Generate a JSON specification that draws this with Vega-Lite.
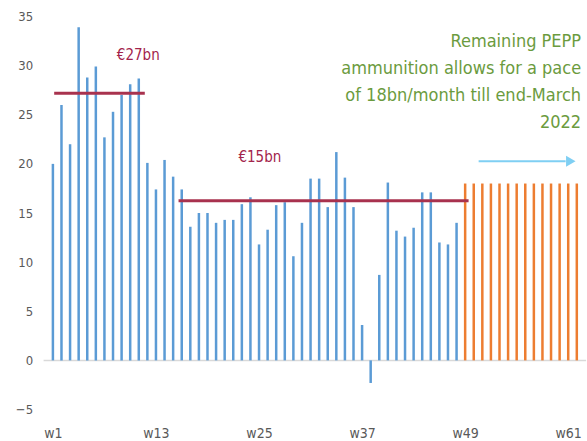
{
  "$schema": "https://vega.github.io/schema/vega-lite/v6.json",
  "width": 542.5,
  "height": 393,
  "autosize": {"type": "none"},
  "padding": {"left": 43.6, "top": 16.5, "right": 0.9, "bottom": 31.5},
  "background": "white",
  "config": {
    "view": {"stroke": null},
    "font": "'DejaVu Sans Condensed', Roboto, sans-serif"
  },
  "datasets": {
    "bars": [
      {"week": 1, "value": 20.0, "series": "actual"},
      {"week": 2, "value": 26.0, "series": "actual"},
      {"week": 3, "value": 22.0, "series": "actual"},
      {"week": 4, "value": 33.9, "series": "actual"},
      {"week": 5, "value": 28.8, "series": "actual"},
      {"week": 6, "value": 29.9, "series": "actual"},
      {"week": 7, "value": 22.7, "series": "actual"},
      {"week": 8, "value": 25.3, "series": "actual"},
      {"week": 9, "value": 27.0, "series": "actual"},
      {"week": 10, "value": 28.1, "series": "actual"},
      {"week": 11, "value": 28.7, "series": "actual"},
      {"week": 12, "value": 20.1, "series": "actual"},
      {"week": 13, "value": 17.4, "series": "actual"},
      {"week": 14, "value": 20.4, "series": "actual"},
      {"week": 15, "value": 18.7, "series": "actual"},
      {"week": 16, "value": 17.4, "series": "actual"},
      {"week": 17, "value": 13.6, "series": "actual"},
      {"week": 18, "value": 15.0, "series": "actual"},
      {"week": 19, "value": 15.0, "series": "actual"},
      {"week": 20, "value": 14.0, "series": "actual"},
      {"week": 21, "value": 14.3, "series": "actual"},
      {"week": 22, "value": 14.3, "series": "actual"},
      {"week": 23, "value": 15.9, "series": "actual"},
      {"week": 24, "value": 16.6, "series": "actual"},
      {"week": 25, "value": 11.8, "series": "actual"},
      {"week": 26, "value": 13.3, "series": "actual"},
      {"week": 27, "value": 15.8, "series": "actual"},
      {"week": 28, "value": 16.1, "series": "actual"},
      {"week": 29, "value": 10.6, "series": "actual"},
      {"week": 30, "value": 14.0, "series": "actual"},
      {"week": 31, "value": 18.5, "series": "actual"},
      {"week": 32, "value": 18.5, "series": "actual"},
      {"week": 33, "value": 15.6, "series": "actual"},
      {"week": 34, "value": 21.2, "series": "actual"},
      {"week": 35, "value": 18.6, "series": "actual"},
      {"week": 36, "value": 15.6, "series": "actual"},
      {"week": 37, "value": 3.6, "series": "actual"},
      {"week": 38, "value": -2.3, "series": "actual"},
      {"week": 39, "value": 8.7, "series": "actual"},
      {"week": 40, "value": 18.1, "series": "actual"},
      {"week": 41, "value": 13.2, "series": "actual"},
      {"week": 42, "value": 12.6, "series": "actual"},
      {"week": 43, "value": 13.5, "series": "actual"},
      {"week": 44, "value": 17.1, "series": "actual"},
      {"week": 45, "value": 17.1, "series": "actual"},
      {"week": 46, "value": 12.0, "series": "actual"},
      {"week": 47, "value": 11.8, "series": "actual"},
      {"week": 48, "value": 14.0, "series": "actual"},
      {"week": 49, "value": 18.0, "series": "projected"},
      {"week": 50, "value": 18.0, "series": "projected"},
      {"week": 51, "value": 18.0, "series": "projected"},
      {"week": 52, "value": 18.0, "series": "projected"},
      {"week": 53, "value": 18.0, "series": "projected"},
      {"week": 54, "value": 18.0, "series": "projected"},
      {"week": 55, "value": 18.0, "series": "projected"},
      {"week": 56, "value": 18.0, "series": "projected"},
      {"week": 57, "value": 18.0, "series": "projected"},
      {"week": 58, "value": 18.0, "series": "projected"},
      {"week": 59, "value": 18.0, "series": "projected"},
      {"week": 60, "value": 18.0, "series": "projected"},
      {"week": 61, "value": 18.0, "series": "projected"},
      {"week": 62, "value": 18.0, "series": "projected"}
    ],
    "avgLines": [
      {"start": 1.15, "end": 11.7, "level": 27.2},
      {"start": 15.63, "end": 49.4, "level": 16.25}
    ],
    "avgLabels": [
      {"week": 10.94, "value": 31.1, "label": "€27bn"},
      {"week": 25.1, "value": 20.75, "label": "€15bn"}
    ],
    "note": [
      {"week": 62.5, "value": 31.94, "label": "Remaining PEPP\nammunition allows for a pace\nof 18bn/month till end-March\n2022"}
    ],
    "arrow": [
      {"start": 50.57, "end": 60.7, "level": 20.27, "tip": 61.3}
    ],
    "zero": [{"value": 0}]
  },
  "layer": [
    {
      "data": {"name": "zero"},
      "mark": {"type": "rule", "color": "#D9D9D9", "strokeWidth": 1.5},
      "encoding": {
        "y": {"field": "value", "type": "quantitative", "scale": {"domain": [-5, 35]}}
      }
    },
    {
      "data": {"name": "bars"},
      "mark": {"type": "bar", "size": 2.5},
      "encoding": {
        "x": {
          "field": "week", "type": "quantitative",
          "scale": {"domain": [0.5, 62.5], "nice": false, "zero": false},
          "axis": {
            "title": null, "values": [1, 13, 25, 37, 49, 61],
            "labelExpr": "'w' + datum.value",
            "domain": false, "ticks": false, "grid": false,
            "labelPadding": 17, "labelFontSize": 14, "labelColor": "#595959"
          }
        },
        "y": {
          "field": "value", "type": "quantitative",
          "scale": {"domain": [-5, 35], "nice": false},
          "axis": {
            "title": null, "values": [-5, 0, 5, 10, 15, 20, 25, 30, 35],
            "domain": false, "ticks": false, "grid": false,
            "labelPadding": 11, "labelFontSize": 13, "labelColor": "#595959"
          }
        },
        "color": {
          "field": "series", "type": "nominal",
          "scale": {"domain": ["actual", "projected"], "range": ["#5B9BD5", "#ED7D31"]},
          "legend": null
        }
      }
    },
    {
      "data": {"name": "avgLines"},
      "mark": {"type": "rule", "color": "#A8324E", "strokeWidth": 3},
      "encoding": {
        "x": {"field": "start", "type": "quantitative"},
        "x2": {"field": "end"},
        "y": {"field": "level", "type": "quantitative"}
      }
    },
    {
      "data": {"name": "avgLabels"},
      "mark": {"type": "text", "color": "#A3244C", "fontSize": 15, "baseline": "middle", "align": "center"},
      "encoding": {
        "x": {"field": "week", "type": "quantitative"},
        "y": {"field": "value", "type": "quantitative"},
        "text": {"field": "label"}
      }
    },
    {
      "data": {"name": "note"},
      "mark": {"type": "text", "color": "#6B9B3E", "fontSize": 18, "align": "right", "baseline": "alphabetic", "lineBreak": "\n", "lineHeight": 27},
      "encoding": {
        "x": {"field": "week", "type": "quantitative"},
        "y": {"field": "value", "type": "quantitative"},
        "text": {"field": "label"}
      }
    },
    {
      "data": {"name": "arrow"},
      "mark": {"type": "rule", "color": "#7FCFF3", "strokeWidth": 2},
      "encoding": {
        "x": {"field": "start", "type": "quantitative"},
        "x2": {"field": "end"},
        "y": {"field": "level", "type": "quantitative"}
      }
    },
    {
      "data": {"name": "arrow"},
      "mark": {"type": "point", "shape": "triangle-right", "filled": true, "color": "#7FCFF3", "size": 120, "opacity": 1},
      "encoding": {
        "x": {"field": "tip", "type": "quantitative"},
        "y": {"field": "level", "type": "quantitative"}
      }
    }
  ]
}
